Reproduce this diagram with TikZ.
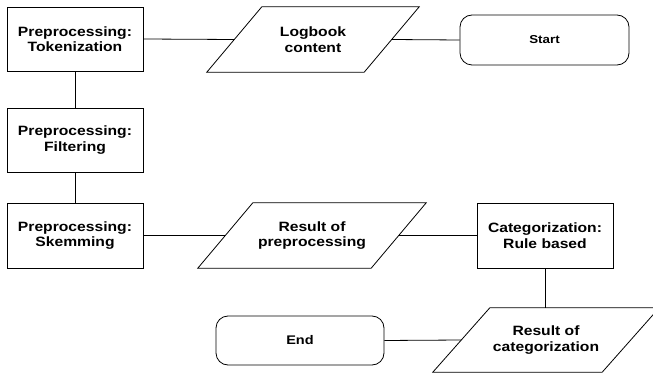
\documentclass[tikz,border=0pt]{standalone}
\usepackage{fontspec}
\setmainfont{Liberation Sans}[FakeStretch=1.16]
\begin{document}
\begin{tikzpicture}[x=1pt,y=-1pt,
  box/.style={draw=black, line width=0.8pt, minimum width=136pt, minimum height=64pt, inner sep=0pt, align=center, font=\fontsize{13.5}{15.5}\selectfont\bfseries},
  para/.style={minimum height=65pt, inner sep=0pt, align=center, font=\fontsize{13.5}{15.5}\selectfont\bfseries},
  term/.style={draw=black, line width=0.8pt, rounded corners=12pt, minimum height=50pt, inner sep=0pt, align=center},
  conn/.style={draw=black, line width=0.8pt},
  outline/.style={draw=black, line width=0.8pt}]
\useasboundingbox (0,0) rectangle (653,374);
% process boxes
\node[box] (tok) at (75,39) {Preprocessing:\\Tokenization};
\node[box] (fil) at (75,140) {Preprocessing:\\Filtering};
\node[box, minimum height=65pt] (skm) at (75,235.5) {Preprocessing:\\Skemming};
\node[box, minimum height=65pt] (cat) at (545,235.5) {Categorization:\\Rule based};
% data (parallelogram) nodes
\node[para, minimum width=157pt] (log) at (313,39.5) {Logbook\\content};
\draw[outline] ([xshift=27.5pt]log.north west) -- ([xshift=27.5pt]log.north east)
  -- ([xshift=-27.5pt]log.south east) -- ([xshift=-27.5pt]log.south west) -- cycle;
\node[para, minimum width=173pt] (rpre) at (312,235.5) {Result of\\preprocessing};
\draw[outline] ([xshift=27.5pt]rpre.north west) -- ([xshift=27.5pt]rpre.north east)
  -- ([xshift=-27.5pt]rpre.south east) -- ([xshift=-27.5pt]rpre.south west) -- cycle;
\node[para, minimum width=169pt, minimum height=64pt] (rcat) at (546,340) {Result of\\categorization};
\draw[outline] ([xshift=28.5pt]rcat.north west) -- ([xshift=28.5pt]rcat.north east)
  -- ([xshift=-28.5pt]rcat.south east) -- ([xshift=-28.5pt]rcat.south west) -- cycle;
% terminals
\node[term, minimum width=169pt, font=\fontsize{11.5}{13}\selectfont\bfseries] (start) at (544.5,40) {Start};
\node[term, minimum width=168pt, minimum height=49pt, font=\fontsize{12.5}{14}\selectfont\bfseries] (end) at (300,340.5) {End};
% connectors
\draw[conn] (start.west) -- (log.east);
\draw[conn] (log.west) -- (tok.east);
\draw[conn] (tok.south) -- (fil.north);
\draw[conn] (fil.south) -- (skm.north);
\draw[conn] (skm.east) -- (rpre.west);
\draw[conn] (rpre.east) -- (cat.west);
\draw[conn] (cat.south) -- (cat.south |- rcat.north);
\draw[conn] (rcat.west) -- (end.east);
\end{tikzpicture}
\end{document}
